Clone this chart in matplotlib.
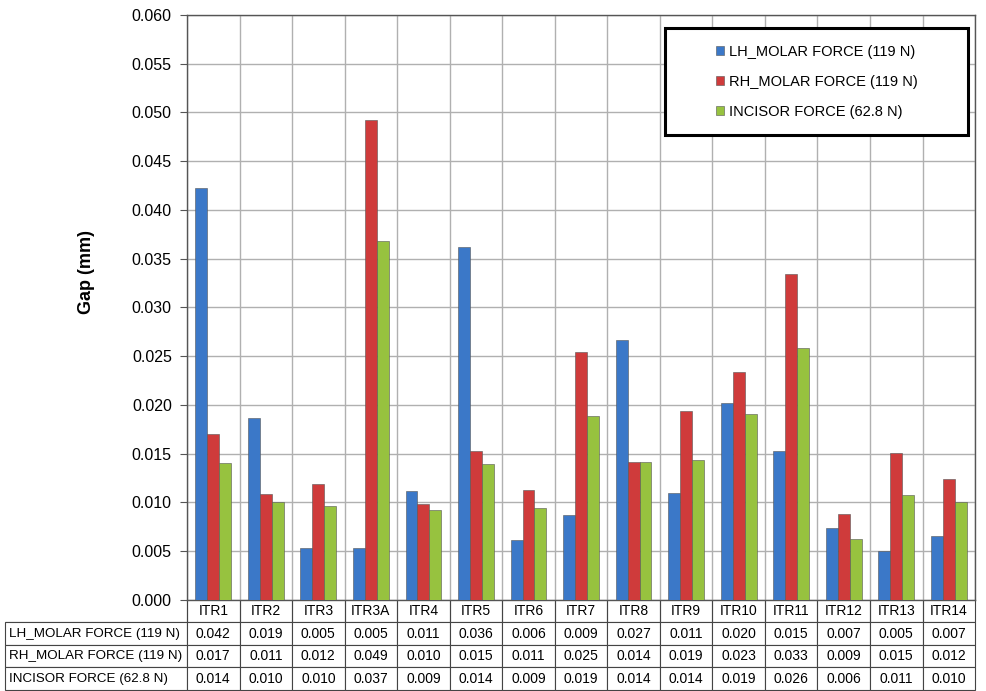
import matplotlib

matplotlib.use("Agg")
import matplotlib.pyplot as plt  # noqa: E402
import numpy as np  # noqa: E402
from matplotlib.patches import Rectangle  # noqa: E402

plt.rcParams["font.family"] = ["Liberation Sans", "DejaVu Sans"]

categories = [
    "ITR1", "ITR2", "ITR3", "ITR3A", "ITR4", "ITR5", "ITR6", "ITR7",
    "ITR8", "ITR9", "ITR10", "ITR11", "ITR12", "ITR13", "ITR14",
]
lh_molar = [0.0423, 0.0187, 0.0053, 0.0053, 0.0112, 0.0362, 0.0062, 0.0087,
            0.0267, 0.0110, 0.0202, 0.0153, 0.0074, 0.0050, 0.0066]
rh_molar = [0.0170, 0.0109, 0.0119, 0.0492, 0.0098, 0.0153, 0.0113, 0.0254,
            0.0142, 0.0194, 0.0234, 0.0334, 0.0088, 0.0151, 0.0124]
incisor = [0.0140, 0.0100, 0.0096, 0.0368, 0.0092, 0.0139, 0.0094, 0.0189,
           0.0142, 0.0144, 0.0191, 0.0258, 0.0063, 0.0108, 0.0101]
series_labels = [
    "LH_MOLAR FORCE (119 N)",
    "RH_MOLAR FORCE (119 N)",
    "INCISOR FORCE (62.8 N)",
]
series_colors = ["#3b78c8", "#cf3b3b", "#97c23f"]

y_ticks = np.arange(0, 0.0601, 0.005)

fig = plt.figure(figsize=(9.86, 6.91), dpi=100)
ax = fig.add_axes([0.1897, 0.1317, 0.7992, 0.8466])

x = np.arange(len(categories))
bar_w = 0.227
for k, (vals, lab, col) in enumerate(zip([lh_molar, rh_molar, incisor],
                                          series_labels, series_colors)):
    ax.bar(x + (k - 1) * bar_w, vals, bar_w, color=col, label=lab,
           edgecolor="#555555", linewidth=0.4, zorder=3)

ax.set_xlim(-0.5, len(categories) - 0.5)
ax.set_ylim(0, 0.060)
ax.set_yticks(y_ticks)
ax.set_yticklabels([f"{t:.3f}" for t in y_ticks], fontsize=11.5)
ax.set_xticks([])
ax.set_xticks(np.arange(len(categories) + 1) - 0.5, minor=True)
ax.tick_params(axis="x", which="minor", length=0)
ax.tick_params(axis="y", length=5, color="#555555", pad=6)
ax.grid(True, which="major", axis="y", color="#b0b0b0", linewidth=1.0, zorder=0)
ax.grid(True, which="minor", axis="x", color="#b0b0b0", linewidth=1.0, zorder=0)
for side in ax.spines.values():
    side.set_color("#555555")
    side.set_linewidth(1.0)

ax.set_ylabel("Gap (mm)", fontsize=13, fontweight="bold")
ax.yaxis.set_label_coords(-0.117, 0.56)

# legend box drawn separately so it can be wider than the entries
ax.add_patch(Rectangle((0.6066, 0.7949), 0.3845, 0.1829, transform=ax.transAxes,
                       facecolor="white", edgecolor="black", linewidth=2.2,
                       zorder=5))
leg = ax.legend(loc="center", bbox_to_anchor=(0.799, 0.886), frameon=False,
                fontsize=10.5, handlelength=0.6, handleheight=0.6,
                handletextpad=0.3, labelspacing=1.1)
leg.set_zorder(6)

# data table under the axis
cell_text = [[lab] + [f"{v:.3f}" for v in vals]
             for lab, vals in zip(series_labels, [lh_molar, rh_molar, incisor])]
label_w = 182 / 970
col_w = (1 - label_w) / len(categories)
tbl = ax.table(cellText=cell_text, colLabels=[""] + categories,
               colWidths=[label_w] + [col_w] * len(categories),
               cellLoc="center", bbox=[-0.231, -0.1538, 1.231, 0.1538])
tbl.auto_set_font_size(False)
tbl.set_fontsize(10)
for (r, c), cell in tbl.get_celld().items():
    cell.set_edgecolor("#444444")
    cell.set_linewidth(0.8)
    if r == 0:
        cell.visible_edges = "BR" if c == 0 else "BLR"
    if c == 0 and r > 0:
        cell.set_text_props(ha="left", fontsize=9.6)
        cell.PAD = 0.02

fig.savefig("out.png", dpi=100)
